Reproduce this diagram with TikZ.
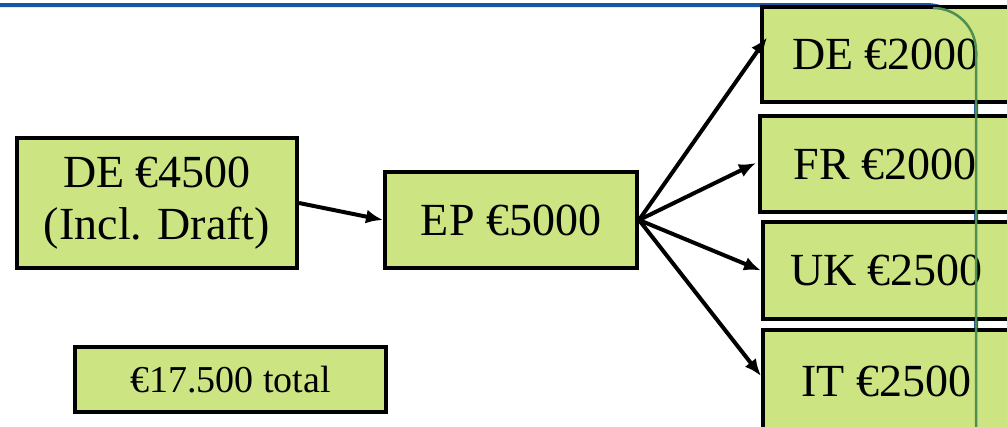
\documentclass[tikz,border=0pt]{standalone}
\usepackage{fontspec}
\setmainfont{Liberation Serif}
\usetikzlibrary{arrows.meta,calc}
\definecolor{boxfill}{HTML}{CDE482}
\definecolor{topblue}{HTML}{1A56A3}
\definecolor{edgegreen}{HTML}{4E8F55}
\tikzset{
  box/.style={draw=black, line width=4pt, fill=boxfill, inner sep=0pt, align=center,
    font=\fontsize{46}{52}\selectfont},
  smallbox/.style={box, font=\fontsize{38}{42}\selectfont},
  conn/.style={line width=4pt, -{Latex[length=17pt,width=14pt]}},
  blueline/.style={draw=topblue, line width=4pt},
  greenline/.style={draw=edgegreen, line width=2.5pt}
}
\begin{document}
\begin{tikzpicture}[x=1pt,y=-1pt]
\useasboundingbox (0,0) rectangle (1007,426);
\fill[white] (0,0) rectangle (1007,426);
% blue frame line (behind the boxes)
\draw[blueline, rounded corners=50pt] (-5,5) -- (976,5) -- (976,440);
% nodes
\node[box, minimum width=280, minimum height=130] (de1) at (157,203) {DE €4500\\(Incl. Draft)};
\node[box, minimum width=252, minimum height=96] (ep) at (511,220) {EP €5000};
\node[smallbox, minimum width=311, minimum height=65] (tot) at (230.5,379.5) {€17.500 total};
\node[box, minimum width=248, minimum height=95] (de2) at (886,54.5) {DE €2000};
\node[box, minimum width=250, minimum height=96] (fr) at (885,164) {FR €2000};
\node[box, minimum width=247, minimum height=97] (uk) at (886.5,270.5) {UK €2500};
\node[box, minimum width=247, minimum height=102] (it) at (886.5,381) {IT €2500};
% connectors
\draw[conn] (de1.east) -- (ep.west);
\draw[conn] (ep.east) -- ($(de2.west)+(7,-17)$);
\draw[conn] (ep.east) -- ($(fr.west)+(-2,-1)$);
\draw[conn] (ep.east) -- (uk.west);
\draw[conn] (ep.east) -- ($(it.west)+(0,-5)$);
% green line (over the boxes)
\draw[greenline, rounded corners=43pt] (933,8) -- (976,8) -- (976,440);
\end{tikzpicture}
\end{document}
